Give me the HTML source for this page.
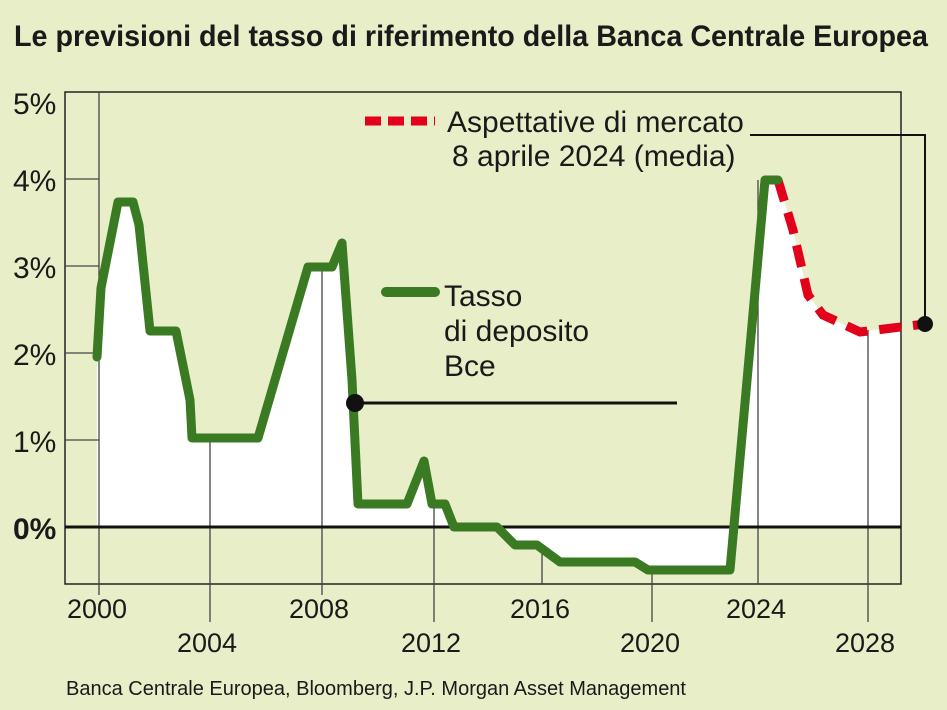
<!DOCTYPE html>
<html><head><meta charset="utf-8"><style>body{margin:0;background:#e8eec7}svg{display:block}text{font-family:"Liberation Sans Narrow","Liberation Sans",sans-serif;fill:#1a1a1a}</style></head><body>
<svg width="947" height="710" viewBox="0 0 947 710">
<rect width="947" height="710" fill="#e8eec7"/>
<text x="14" y="46" font-size="30" font-weight="bold" textLength="914" lengthAdjust="spacingAndGlyphs">Le previsioni del tasso di riferimento della Banca Centrale Europea</text>
<!-- white fill -->
<polygon fill="#fff" points="97,527 97,357 101,288 118,202 133,202 139,225 150,331 176,331 190,400 192,438 258,438 308,267 332,267 342,243 352,380 358,504 407,504 424,461 432,504 445,504 454,527 497,527 515,545 537,545 560,562 635,562 648,570 730,570 733,527"/>
<polygon fill="#fff" points="733,527 765,180 778,180 793,230 808,295 823,315 860,332 901,326 901,527"/>
<!-- plot frame -->
<path d="M65,92H901V584H65Z" fill="none" stroke="#222" stroke-width="1.5"/>
<g stroke="#444" stroke-width="1.3">
<line x1="99" y1="92" x2="99" y2="595"/>
<line x1="210" y1="438" x2="210" y2="622"/>
<line x1="322" y1="267" x2="322" y2="595"/>
<line x1="434" y1="504" x2="434" y2="622"/>
<line x1="542" y1="545" x2="542" y2="584"/>
<line x1="652" y1="570" x2="652" y2="622"/>
<line x1="758" y1="180" x2="758" y2="584"/>
<line x1="868" y1="330" x2="868" y2="622"/>
<line x1="65" y1="179" x2="99" y2="179"/><line x1="65" y1="266" x2="99" y2="266"/><line x1="65" y1="353" x2="99" y2="353"/><line x1="65" y1="440" x2="99" y2="440"/>
</g>
<line x1="65" y1="527" x2="901" y2="527" stroke="#111" stroke-width="3"/>
<g font-size="30">
<text x="13" y="114">5%</text><text x="13" y="191">4%</text><text x="13" y="278">3%</text><text x="13" y="365">2%</text><text x="13" y="452">1%</text>
<text x="13" y="539" font-weight="bold">0%</text>
<text x="67" y="618" font-size="27">2000</text><text x="177" y="652" font-size="27">2004</text><text x="289" y="618" font-size="27">2008</text><text x="401" y="652" font-size="27">2012</text>
<text x="510" y="618" font-size="27">2016</text><text x="620" y="652" font-size="27">2020</text><text x="726" y="618" font-size="27">2024</text><text x="835" y="652" font-size="27">2028</text>
</g>
<!-- series -->
<polyline fill="none" stroke="#e2001a" stroke-width="9" stroke-dasharray="22,12" points="778,180 793,230 808,295 823,315 860,332 925,324"/>
<polyline fill="none" stroke="#3a7a22" stroke-width="9" stroke-linejoin="round" stroke-linecap="round" points="97,357 101,288 118,202 133,202 139,225 150,331 176,331 190,400 192,438 258,438 308,267 332,267 342,243 352,380 358,504 407,504 424,461 432,504 445,504 454,527 497,527 515,545 537,545 560,562 635,562 648,570 730,570 765,180 778,180"/>
<!-- pointers -->
<line x1="355" y1="403" x2="677" y2="403" stroke="#111" stroke-width="3"/>
<circle cx="355" cy="403" r="9" fill="#111"/>
<polyline fill="none" stroke="#111" stroke-width="2" points="750,135 925,135 925,324"/>
<circle cx="925" cy="324" r="8" fill="#111"/>
<!-- legend -->
<line x1="365" y1="121" x2="435" y2="121" stroke="#e2001a" stroke-width="9" stroke-dasharray="16,7"/>
<text x="447" y="132" font-size="30">Aspettative di mercato</text>
<text x="452" y="166" font-size="30">8 aprile 2024 (media)</text>
<line x1="386" y1="292" x2="435" y2="292" stroke="#3a7a22" stroke-width="10" stroke-linecap="round"/>
<text x="444" y="306" font-size="30">Tasso</text>
<text x="444" y="341" font-size="30">di deposito</text>
<text x="444" y="376" font-size="30">Bce</text>
<text x="66" y="695" font-size="20">Banca Centrale Europea, Bloomberg, J.P. Morgan Asset Management</text>
</svg>
</body></html>
